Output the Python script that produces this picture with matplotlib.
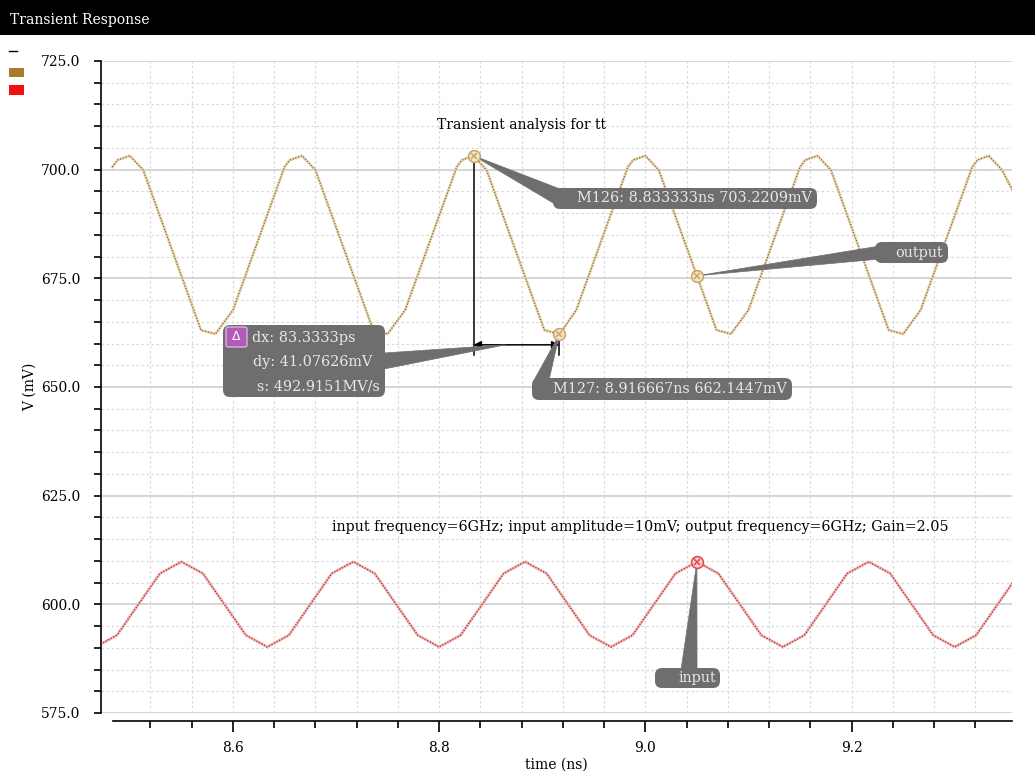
import matplotlib
import numpy as np

matplotlib.use('Agg')
import matplotlib.pyplot as plt
from matplotlib.lines import Line2D
from matplotlib.patches import FancyBboxPatch, Polygon, Rectangle
from matplotlib.transforms import IdentityTransform

W, H = 1035, 780

# output node, simulator time points (ns) and voltages (mV)
out_t = [8.483, 8.488, 8.500, 8.513, 8.569, 8.583, 8.600,
         8.650, 8.655, 8.667, 8.680, 8.736, 8.750, 8.767,
         8.817, 8.822, 8.8333, 8.846, 8.902, 8.9167, 8.933,
         8.983, 8.988, 9.000, 9.013, 9.069, 9.083, 9.100,
         9.150, 9.155, 9.167, 9.180, 9.236, 9.250, 9.267,
         9.317, 9.322, 9.333, 9.346, 9.356]
out_v = [700.6, 702.2, 703.2, 699.9, 663.1, 662.2, 667.7,
         700.6, 702.2, 703.2, 699.9, 663.1, 662.2, 667.7,
         700.6, 702.2, 703.22, 699.9, 663.1, 662.14, 667.7,
         700.6, 702.2, 703.2, 699.9, 663.1, 662.2, 667.7,
         700.6, 702.2, 703.2, 699.9, 663.1, 662.2, 667.7,
         700.6, 702.2, 703.2, 699.9, 695.3]

# input node
in_t = [8.4667, 8.4875, 8.5083, 8.5292, 8.5500, 8.5708, 8.5917, 8.6125,
        8.6333, 8.6542, 8.6750, 8.6958, 8.7167, 8.7375, 8.7583, 8.7792,
        8.8000, 8.8208, 8.8417, 8.8625, 8.8833, 8.9042, 8.9250, 8.9458,
        8.9667, 8.9875, 9.0083, 9.0292, 9.0500, 9.0708, 9.0917, 9.1125,
        9.1333, 9.1542, 9.1750, 9.1958, 9.2167, 9.2375, 9.2583, 9.2792,
        9.3000, 9.3208, 9.3417, 9.3625]
in_v = [590.2, 592.9, 600.0, 607.1, 609.8, 607.1, 600.0, 592.9,
        590.2, 592.9, 600.0, 607.1, 609.8, 607.1, 600.0, 592.9,
        590.2, 592.9, 600.0, 607.1, 609.8, 607.1, 600.0, 592.9,
        590.2, 592.9, 600.0, 607.1, 609.8, 607.1, 600.0, 592.9,
        590.2, 592.9, 600.0, 607.1, 609.8, 607.1, 600.0, 592.9,
        590.2, 592.9, 600.0, 607.1]

# markers
m126 = (8.833333, 703.2209)
m127 = (8.916667, 662.1447)
probe_t = 9.05

x_major = [8.6, 8.8, 9.0, 9.2]
x_minor = [8.52, 8.56, 8.64, 8.68, 8.72, 8.76, 8.84, 8.88, 8.92, 8.96,
           9.04, 9.08, 9.12, 9.16, 9.24, 9.28, 9.32]
y_major = [575, 600, 625, 650, 675, 700, 725]
y_minor = [v for v in range(580, 725, 5) if v % 25]

SERIF = ['DejaVu Serif']
BOX_FC = '#6e6e6e'
BOX_TXT = '#e8e8e8'

fig = plt.figure(figsize=(W / 100, H / 100), dpi=100)
ax = fig.add_axes([101 / W, 1 - 713 / H, (1012 - 101) / W, (713 - 61) / H])
ax.set_xlim(8.472, 9.3556)
ax.set_ylim(575, 725)

for s in ['top', 'right']:
    ax.spines[s].set_visible(False)
ax.spines['left'].set_linewidth(1.2)
ax.spines['bottom'].set_linewidth(1.2)
ax.spines['bottom'].set_position(('outward', 6))
ax.spines['bottom'].set_bounds(8.4835, 9.3556)

ax.set_xticks(x_major)
ax.set_xticks(x_minor, minor=True)
ax.set_xticklabels(['%.1f' % x for x in x_major])
ax.set_yticks(y_major)
ax.set_yticks(y_minor, minor=True)
ax.set_yticklabels(['%.1f' % y for y in y_major])
ax.tick_params(axis='x', which='major', length=8, width=1.2, pad=6, labelsize=10)
ax.tick_params(axis='x', which='minor', length=5, width=1.2)
ax.tick_params(axis='y', which='both', length=5, width=1.2, pad=10, labelsize=10)
for lab in ax.get_xticklabels() + ax.get_yticklabels():
    lab.set_family(SERIF)

ax.grid(True, which='minor', color='#dadada', linestyle=(0, (2, 2)), linewidth=0.9)
ax.grid(True, which='major', axis='x', color='#dadada', linestyle=(0, (2, 2)), linewidth=0.9)
ax.grid(True, which='major', axis='y', color='#d2d2d2', linestyle='-', linewidth=1.3)
ax.set_axisbelow(True)

ax.set_xlabel('time (ns)', family=SERIF, fontsize=10, labelpad=2)
ax.set_ylabel('V (mV)', family=SERIF, fontsize=10, labelpad=3)

# traces: light base line with dark dotted overlay
ax.plot(out_t, out_v, color='#ecd7ad', lw=2.0, zorder=2)
ax.plot(out_t, out_v, color='#806848', lw=0.9, linestyle=(0, (1, 1.3)), zorder=3)
ax.plot(in_t, in_v, color='#f5b4b4', lw=2.0, zorder=2)
ax.plot(in_t, in_v, color='#a03434', lw=0.9, linestyle=(0, (1, 1.3)), zorder=3)

probe_out = (probe_t, float(np.interp(probe_t, out_t, out_v)))
probe_in = (probe_t, float(np.interp(probe_t, in_t, in_v)))

# delta measurement lines between M126 and M127
arrow_v = 659.7
low_v = 657.4
ax.plot([m126[0], m126[0]], [m126[1], low_v], color='black', lw=1.1, zorder=4)
ax.plot([m127[0], m127[0]], [m127[1], low_v], color='black', lw=1.1, zorder=4)
ax.annotate('', xy=(m126[0], arrow_v), xytext=(m127[0], arrow_v),
            arrowprops=dict(arrowstyle='<|-|>', color='black', lw=1.1,
                            mutation_scale=11, shrinkA=0, shrinkB=0), zorder=4)

ident = IdentityTransform()


def px(x, y):
    return x, H - y


def to_disp(pt):
    return tuple(ax.transData.transform(pt))


def box(x0, y0, x1, y1, fc=BOX_FC, r=7, z=6):
    p = FancyBboxPatch(px(x0, y1), x1 - x0, y1 - y0,
                       boxstyle='round,pad=0,rounding_size=%d' % r,
                       transform=ident, fc=fc, ec='none', zorder=z)
    ax.add_artist(p)


def wedge(apex, b1, b2):
    p = Polygon([apex, px(*b1), px(*b2)], closed=True, transform=ident,
                fc=BOX_FC, ec=BOX_FC, lw=0.5, zorder=5)
    ax.add_artist(p)


def label(x, y, s, ha='left', color=BOX_TXT, size=10.4):
    ax.text(*px(x, y), s, transform=ident, ha=ha, va='center',
            color=color, fontsize=size, family=SERIF, zorder=7)


# M126
wedge(to_disp(m126), (560, 189), (560, 207))
box(553, 188, 817, 209)
label(812, 198.5, 'M126: 8.833333ns 703.2209mV', ha='right')

# M127
wedge(to_disp(m127), (533, 382), (549, 380))
box(532, 378, 792, 400)
label(787, 389, 'M127: 8.916667ns 662.1447mV', ha='right')

# delta readout
apex_t = m126[0] + 0.37 * (m127[0] - m126[0])
wedge(to_disp((apex_t, arrow_v)), (384, 353), (384, 369))
box(223, 325, 385, 397)
ax.add_artist(FancyBboxPatch(px(226, 347), 21, 20, boxstyle='round,pad=0,rounding_size=2',
                             transform=ident, fc='#b15cb8', ec='#e0b0e4', lw=1, zorder=7))
ax.text(*px(236.5, 337), '\u0394', transform=ident, ha='center', va='center',
        color='white', fontsize=9, family=['DejaVu Sans'], zorder=8)
label(252, 338, 'dx: 83.3333ps')
label(253, 362, 'dy: 41.07626mV')
label(257, 387, 's: 492.9151MV/s')

# trace name tags
wedge(to_disp(probe_out), (880, 246), (880, 259))
box(875, 242, 948, 263)
label(943, 252.5, 'output', ha='right')

wedge(to_disp(probe_in), (681, 670), (697, 670))
box(655, 668, 720, 688)
label(716, 678, 'input', ha='right')

# marker symbols
for pt, ec, fc in [(m126, '#c9a468', '#f3e6c8'), (m127, '#c9a468', '#f3e6c8'),
                   (probe_out, '#c9a468', '#f3e6c8'), (probe_in, '#e04444', '#fbd0d0')]:
    ax.plot(*pt, marker='o', ms=8.5, mfc=fc, mec=ec, mew=1.1, zorder=9)
    ax.plot(*pt, marker='x', ms=5, mec=ec, mew=1.1, zorder=10)

# plot texts
ax.text(*px(437, 125), 'Transient analysis for tt', transform=ident, ha='left', va='center',
        fontsize=10, family=SERIF, color='black')
ax.text(*px(332, 527),
        'input frequency=6GHz; input amplitude=10mV; output frequency=6GHz; Gain=2.05',
        transform=ident, ha='left', va='center', fontsize=10.3, family=SERIF, color='black')

# window title bar
fig.add_artist(Rectangle((0, 1 - 35 / H), 1, 35 / H, transform=fig.transFigure,
                         fc='black', ec='none'))
fig.text(10 / W, 1 - 20 / H, 'Transient Response', color='white', fontsize=10,
         family=SERIF, va='center')

# legend swatches
fig.add_artist(Line2D([9 / W, 17 / W], [1 - 51 / H, 1 - 51 / H], color='black', lw=1,
                      transform=fig.transFigure))
fig.add_artist(Rectangle((9 / W, 1 - 77 / H), 15 / W, 9 / H, transform=fig.transFigure,
                         fc='#a97a30', ec='none'))
fig.add_artist(Rectangle((9 / W, 1 - 95 / H), 15 / W, 10 / H, transform=fig.transFigure,
                         fc='#f01010', ec='none'))

fig.savefig('out.png', dpi=100, facecolor='white')
